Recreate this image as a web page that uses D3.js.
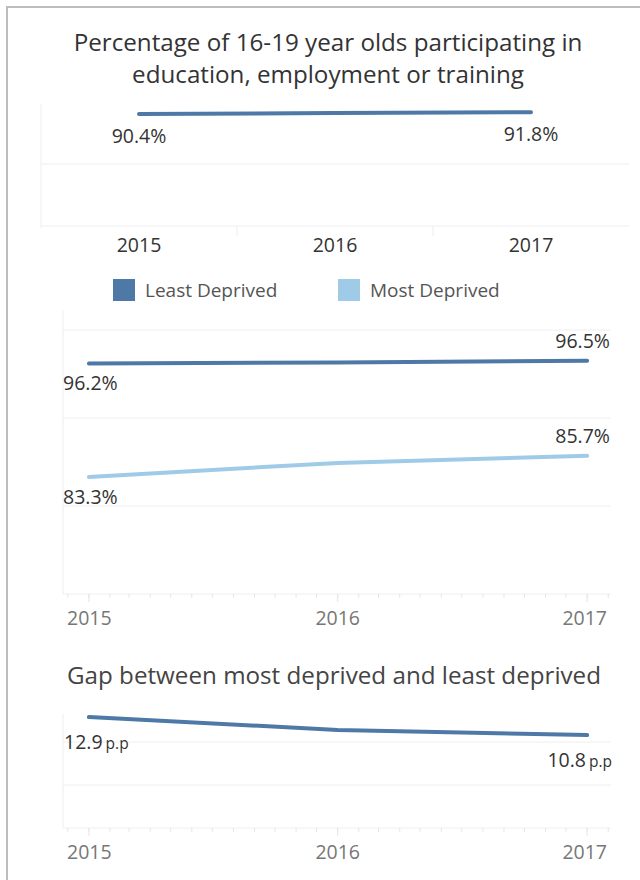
<!DOCTYPE html>
<html>
<head>
<meta charset="utf-8">
<script src="https://cdn.jsdelivr.net/npm/d3@7"></script>
<style>
  html, body { margin: 0; padding: 0; background: #fff; }
  svg { display: block; font-family: "Open Sans", sans-serif; }
</style>
</head>
<body>
<svg id="chart" width="640" height="880"></svg>
<script>
const years = [2015, 2016, 2017];
const overall = [90.4, 91.1, 91.8];
const leastDeprived = [96.2, 96.3, 96.5];
const mostDeprived = [83.3, 84.9, 85.7];
const gap = [12.9, 11.4, 10.8];

const dark = "#4e79a7";
const light = "#a0cbe8";
const grid = "#eeeeee";
const titleSize = 24.2;
const labelSize = 19.5;

const svg = d3.select("#chart");

// outer frame
svg.append("path")
    .attr("d", "M7,880V7H640")
    .attr("fill", "none")
    .attr("stroke", "#bdbdbd")
    .attr("stroke-width", 2);

// ---------- Chart 1: overall, discrete years ----------
svg.append("text")
    .attr("x", 328).attr("y", 51)
    .attr("text-anchor", "middle")
    .attr("font-size", titleSize).attr("fill", "#333")
    .text("Percentage of 16-19 year olds participating in");
svg.append("text")
    .attr("x", 328).attr("y", 83)
    .attr("text-anchor", "middle")
    .attr("font-size", titleSize).attr("fill", "#333")
    .text("education, employment or training");

const x1 = d3.scaleBand().domain(years).range([41, 629]);
const y1 = d3.scaleLinear().domain([0, 100]).range([226, 102]);

const g1 = svg.append("g");
[0, 50].forEach(v => {
  g1.append("line")
      .attr("x1", 41).attr("x2", 629)
      .attr("y1", y1(v)).attr("y2", y1(v))
      .attr("stroke", grid);
});
g1.append("line")
    .attr("x1", 41).attr("x2", 41).attr("y1", 104).attr("y2", 228)
    .attr("stroke", grid);
years.slice(1).forEach(yr => {
  g1.append("line")
      .attr("x1", x1(yr)).attr("x2", x1(yr))
      .attr("y1", 226).attr("y2", 236)
      .attr("stroke", grid);
});

const line1 = d3.line()
    .x((d, i) => x1(years[i]) + x1.bandwidth() / 2)
    .y(d => y1(d));
g1.append("path")
    .datum(overall)
    .attr("d", line1)
    .attr("fill", "none").attr("stroke", dark)
    .attr("stroke-width", 4).attr("stroke-linecap", "round");

[0, 2].forEach(i => {
  g1.append("text")
      .attr("x", x1(years[i]) + x1.bandwidth() / 2)
      .attr("y", y1(overall[i]) + 29)
      .attr("text-anchor", "middle")
      .attr("font-size", labelSize).attr("fill", "#333")
      .text(overall[i].toFixed(1) + "%");
});

g1.selectAll(".yr")
  .data(years)
  .join("text")
    .attr("x", d => x1(d) + x1.bandwidth() / 2)
    .attr("y", 252)
    .attr("text-anchor", "middle")
    .attr("font-size", labelSize).attr("fill", "#333")
    .text(d => d);

// ---------- Legend ----------
const legend = [
  { name: "Least Deprived", color: dark, x: 113 },
  { name: "Most Deprived", color: light, x: 338 }
];
const lg = svg.append("g").selectAll("g").data(legend).join("g")
    .attr("transform", d => `translate(${d.x},279)`);
lg.append("rect").attr("width", 22).attr("height", 22).attr("fill", d => d.color);
lg.append("text")
    .attr("x", 32).attr("y", 18)
    .attr("font-size", 19).attr("fill", "#555")
    .text(d => d.name);

// ---------- shared time axis helper ----------
const dates = years.map(y => new Date(y, 0, 1));
const xt = d3.scaleTime()
    .domain([new Date(2014, 10, 24), new Date(2017, 1, 5)])
    .range([63, 611]);

function timeAxis(g, yBase, labelY) {
  g.selectAll(".minor")
    .data(d3.timeMonth.range(new Date(2014, 11, 1), new Date(2017, 1, 5)))
    .join("line")
      .attr("x1", d => xt(d)).attr("x2", d => xt(d))
      .attr("y1", yBase).attr("y2", yBase + 4)
      .attr("stroke", "#e6e6e6");
  g.selectAll(".major")
    .data(dates)
    .join("line")
      .attr("x1", d => xt(d)).attr("x2", d => xt(d))
      .attr("y1", yBase).attr("y2", yBase + 8)
      .attr("stroke", "#e6e6e6");
  g.selectAll(".yl")
    .data(dates)
    .join("text")
      .attr("x", (d, i) => i === 0 ? 67 : (i === 2 ? 607 : xt(d)))
      .attr("y", labelY)
      .attr("text-anchor", (d, i) => i === 2 ? "end" : (i === 0 ? "start" : "middle"))
      .attr("font-size", labelSize).attr("fill", "#777")
      .text(d => d.getFullYear());
}

// ---------- Chart 2: least vs most deprived ----------
const y2 = d3.scaleLinear().domain([70, 100]).range([594, 330]);
const g2 = svg.append("g");
[80, 90, 100].forEach(v => {
  g2.append("line")
      .attr("x1", 63).attr("x2", 611)
      .attr("y1", y2(v)).attr("y2", y2(v))
      .attr("stroke", grid);
});
g2.append("line").attr("x1", 63).attr("x2", 611).attr("y1", 594).attr("y2", 594).attr("stroke", grid);
g2.append("line").attr("x1", 63).attr("x2", 63).attr("y1", 310).attr("y2", 594).attr("stroke", grid);
timeAxis(g2, 594, 625);

const line2 = d3.line()
    .x((d, i) => xt(dates[i]))
    .y(d => y2(d));
[{ v: leastDeprived, c: dark }, { v: mostDeprived, c: light }].forEach(s => {
  g2.append("path")
      .datum(s.v)
      .attr("d", line2)
      .attr("fill", "none").attr("stroke", s.c)
      .attr("stroke-width", 4).attr("stroke-linecap", "round");
  g2.append("text")
      .attr("x", 63).attr("y", y2(s.v[0]) + 27)
      .attr("font-size", labelSize).attr("fill", "#333")
      .text(s.v[0].toFixed(1) + "%");
  g2.append("text")
      .attr("x", 610).attr("y", y2(s.v[2]) - 13)
      .attr("text-anchor", "end")
      .attr("font-size", labelSize).attr("fill", "#333")
      .text(s.v[2].toFixed(1) + "%");
});

// ---------- Chart 3: gap ----------
svg.append("text")
    .attr("x", 334).attr("y", 684)
    .attr("text-anchor", "middle")
    .attr("font-size", titleSize).attr("fill", "#444")
    .text("Gap between most deprived and least deprived");

const y3 = d3.scaleLinear().domain([0, 10]).range([828, 742]);
const g3 = svg.append("g");
[5, 10].forEach(v => {
  g3.append("line")
      .attr("x1", 63).attr("x2", 611)
      .attr("y1", y3(v)).attr("y2", y3(v))
      .attr("stroke", grid);
});
g3.append("line").attr("x1", 63).attr("x2", 611).attr("y1", 828).attr("y2", 828).attr("stroke", grid);
g3.append("line").attr("x1", 63).attr("x2", 63).attr("y1", 714).attr("y2", 828).attr("stroke", grid);
timeAxis(g3, 828, 859);

const line3 = d3.line()
    .x((d, i) => xt(dates[i]))
    .y(d => y3(d));
g3.append("path")
    .datum(gap)
    .attr("d", line3)
    .attr("fill", "none").attr("stroke", dark)
    .attr("stroke-width", 4).attr("stroke-linecap", "round");

const t0 = g3.append("text")
    .attr("x", 64).attr("y", y3(gap[0]) + 32)
    .attr("fill", "#333");
t0.append("tspan").attr("font-size", labelSize).text(gap[0].toFixed(1));
t0.append("tspan").attr("font-size", 15.5).attr("dx", 3).text("p.p");

const t2 = g3.append("text")
    .attr("x", 612).attr("y", y3(gap[2]) + 32)
    .attr("text-anchor", "end")
    .attr("fill", "#333");
t2.append("tspan").attr("font-size", labelSize).text(gap[2].toFixed(1));
t2.append("tspan").attr("font-size", 15.5).attr("dx", 3).text("p.p");
</script>
</body>
</html>
